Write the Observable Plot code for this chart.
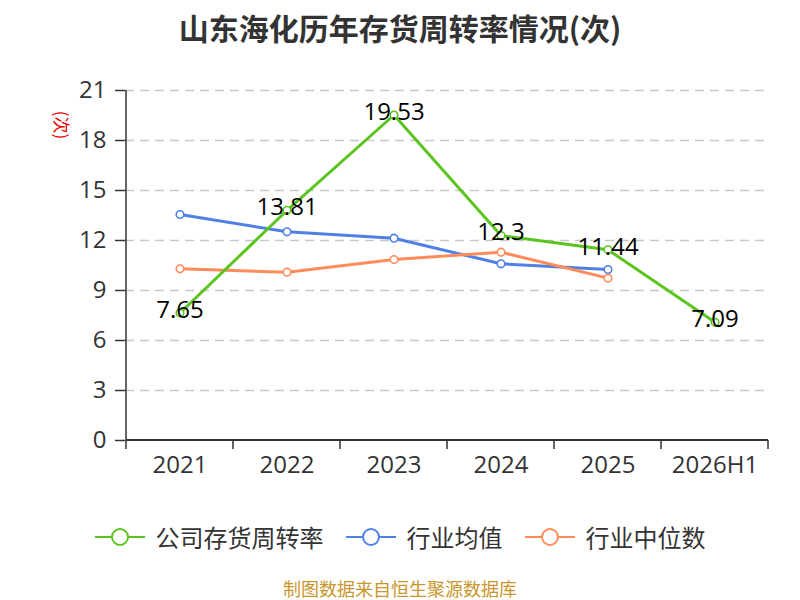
<!DOCTYPE html>
<html>
<head>
<meta charset="utf-8">
<script src="https://cdn.jsdelivr.net/npm/d3@7"></script>
<script src="https://cdn.jsdelivr.net/npm/@observablehq/plot@0.6"></script>
<style>
  body { margin: 0; background: #fff; font-family: "Open Sans", "Noto Sans CJK SC", sans-serif; }
  #wrap { position: relative; width: 800px; height: 600px; overflow: hidden; background: #fff; }
  #title { position: absolute; top: 12px; left: 0; width: 800px; text-align: center; font-size: 30px; line-height: 30px; font-weight: bold; color: #333; font-family: "Noto Sans CJK SC", sans-serif; }
  #chart { position: absolute; top: 0; left: 0; }
  #unit { position: absolute; left: 62px; top: 125px; transform: translate(-50%, -50%) rotate(90deg); color: #e00; font-size: 17px; line-height: 17px; white-space: nowrap; font-family: "Noto Sans CJK SC", sans-serif; }
  #legend { position: absolute; top: 522px; left: 0; width: 800px; height: 30px; display: flex; justify-content: center; align-items: center; gap: 22px; font-family: "Noto Sans CJK SC", sans-serif; }
  .item { display: flex; align-items: center; gap: 11px; font-size: 24px; color: #333; line-height: 30px; }
  #footer { position: absolute; top: 577px; left: 0; width: 800px; text-align: center; font-size: 18px; line-height: 22px; color: #c9962c; font-family: "Noto Sans CJK SC", sans-serif; }
</style>
</head>
<body>
<div id="wrap">
  <div id="title"></div>
  <div id="chart"></div>
  <div id="unit"></div>
  <div id="legend"></div>
  <div id="footer"></div>
</div>
<script>
const titleText = "山东海化历年存货周转率情况(次)";
const unitText = "(次)";
const footerText = "制图数据来自恒生聚源数据库";
const categories = ["2021", "2022", "2023", "2024", "2025", "2026H1"];
const companyValues = [7.65, 13.81, 19.53, 12.3, 11.44, 7.09];
const industryAvg = [13.56, 12.52, 12.14, 10.6, 10.26];
const industryMedian = [10.3, 10.1, 10.86, 11.3, 9.74];
const yTicks = [0, 3, 6, 9, 12, 15, 18, 21];
const seriesNames = ["公司存货周转率", "行业均值", "行业中位数"];
const seriesColors = ["#5bc41f", "#4f81e5", "#ff8c5a"];

document.getElementById("title").textContent = titleText;
document.getElementById("unit").textContent = unitText;
document.getElementById("footer").textContent = footerText;

const toRows = (vals, s) => vals.map((v, i) => ({cat: categories[i], value: v, series: s}));
const companyRows = toRows(companyValues, seriesNames[0]);
const avgRows = toRows(industryAvg, seriesNames[1]);
const medRows = toRows(industryMedian, seriesNames[2]);
const drawOrder = [avgRows, medRows, companyRows];

const axisColor = "#333";

function axesMark(index, scales) {
  const x = scales.x, y = scales.y;
  const bw = typeof x.bandwidth === "function" ? x.bandwidth() : 0;
  const bounds = categories.map(c => x(c));
  bounds.push(x(categories[categories.length - 1]) + bw);
  const y0 = y(yTicks[0]);
  const yTop = y(yTicks[yTicks.length - 1]);
  const g = d3.create("svg:g").attr("stroke", axisColor).attr("fill", "none");
  g.append("line").attr("x1", bounds[0]).attr("x2", bounds[0]).attr("y1", y0).attr("y2", yTop).attr("stroke-width", 1.5);
  g.append("line").attr("x1", bounds[0]).attr("x2", bounds[bounds.length - 1]).attr("y1", y0).attr("y2", y0).attr("stroke-width", 2);
  for (const b of bounds) {
    g.append("line").attr("x1", b).attr("x2", b).attr("y1", y0).attr("y2", y0 + 9).attr("stroke-width", 1.5);
  }
  return g.node();
}

const marks = [
  Plot.gridY(yTicks.slice(1), {stroke: "#c8c8c8", strokeOpacity: 1, strokeWidth: 1.3, strokeDasharray: "9,6"}),
  Plot.axisY({ticks: yTicks, tickSize: 10, tickPadding: 9, fontSize: 24, stroke: axisColor, strokeWidth: 1.5, fill: axisColor, label: null}),
  Plot.axisX({tickSize: 0, tickPadding: 15, fontSize: 24, fill: axisColor, label: null}),
  axesMark
];
for (const rows of drawOrder) {
  marks.push(Plot.line(rows, {x: "cat", y: "value", stroke: "series", strokeWidth: 3}));
}
for (const rows of drawOrder) {
  marks.push(Plot.dot(rows, {x: "cat", y: "value", stroke: "series", fill: "white", r: 3.8, strokeWidth: 1.6}));
}
marks.push(Plot.text(companyRows, {x: "cat", y: "value", text: d => String(d.value), fontSize: 24, fill: "#000", dy: -3}));

const chart = Plot.plot({
  width: 800,
  height: 480,
  marginTop: 90,
  marginBottom: 40,
  marginLeft: 125,
  marginRight: 32,
  style: {fontFamily: "'Open Sans', 'Noto Sans CJK SC', sans-serif", background: "transparent", overflow: "visible"},
  x: {type: "band", domain: categories, padding: 0, label: null},
  y: {domain: [0, 21], label: null},
  color: {domain: seriesNames, range: seriesColors},
  marks
});
document.getElementById("chart").appendChild(chart);

const legend = document.getElementById("legend");
seriesNames.forEach((name, i) => {
  const item = document.createElement("div");
  item.className = "item";
  const svg = d3.create("svg").attr("width", 50).attr("height", 22);
  svg.append("line").attr("x1", 0).attr("x2", 50).attr("y1", 11).attr("y2", 11).attr("stroke", seriesColors[i]).attr("stroke-width", 2);
  svg.append("circle").attr("cx", 25).attr("cy", 11).attr("r", 8).attr("fill", "#fff").attr("stroke", seriesColors[i]).attr("stroke-width", 2);
  item.appendChild(svg.node());
  const span = document.createElement("span");
  span.textContent = name;
  item.appendChild(span);
  legend.appendChild(item);
});
</script>
</body>
</html>
